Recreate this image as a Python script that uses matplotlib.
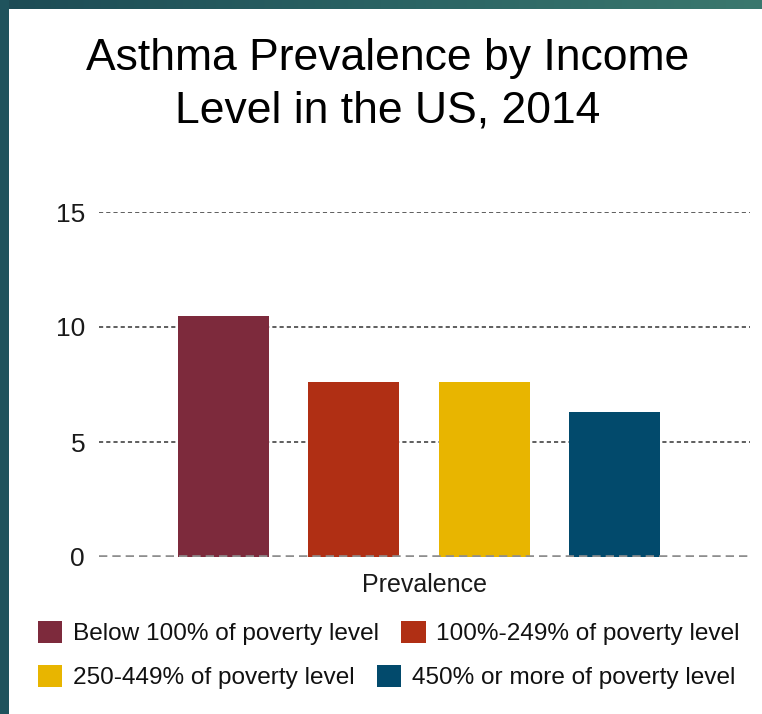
"""
Asthma prevalence by income level, bar chart in a framed panel.
"""

import numpy as np
import matplotlib
matplotlib.use('Agg')
import matplotlib.pyplot as plt
from matplotlib.patches import Rectangle, Patch

plt.rcParams['font.family'] = ['Liberation Sans', 'DejaVu Sans']
plt.rcParams['lines.scale_dashes'] = False

# Data
groups = ['Below 100% of poverty level', '100%-249% of poverty level',
          '250-449% of poverty level', '450% or more of poverty level']
prevalence = [10.5, 7.6, 7.6, 6.3]
y_ticks = [0, 5, 10, 15]
colors = ['#7d2a3c', '#b02f14', '#e8b500', '#024a6c']

W, H = 762, 714
fig = plt.figure(figsize=(W / 100, H / 100), dpi=100, facecolor='#1f525c')

# Teal frame with a gradient along the top edge
bg = fig.add_axes([0, 0, 1, 1], zorder=-10)
grad = np.linspace(0, 1, 256)[None, :]
bg.imshow(grad, aspect='auto', extent=[0, 1, 1 - 9 / H, 1],
          cmap=matplotlib.colors.LinearSegmentedColormap.from_list(
              'frame', ['#1d4b55', '#2a6263', '#3b786e']))
bg.add_patch(Rectangle((0, 0), 9 / W, 1, color='#1f535d', lw=0))
bg.add_patch(Rectangle((9 / W, 0), 1, 1 - 9 / H, color='white', lw=0))
bg.set_xlim(0, 1)
bg.set_ylim(0, 1)
bg.axis('off')

# Plot area
ax = fig.add_axes([99 / W, (H - 557) / H, 651 / W, 345 / H])
ax.set_facecolor('none')
x = np.arange(len(groups))
ax.bar(x, prevalence, width=0.7, color=colors, zorder=2)

for t in y_ticks[1:]:
    ax.axhline(t, color='#333333', lw=1.1, dashes=(3, 2.2), zorder=1)
ax.axhline(0, color='#8e8e8e', lw=2.6, dashes=(6, 3.6), zorder=3)

ax.set_xlim(-0.955, 4.04)
ax.set_ylim(0, 15)
ax.set_yticks(y_ticks)
ax.set_yticklabels([str(t) for t in y_ticks], fontsize=19, color='#1a1a1a')
ax.tick_params(axis='y', length=0, pad=10)
ax.set_xticks([])
for s in ax.spines.values():
    s.set_visible(False)

# Title and axis label
fig.text(388 / W, 1 - 70 / H, 'Asthma Prevalence by Income', ha='center',
         va='baseline', fontsize=32, color='black')
fig.text(388 / W, 1 - 122 / H, 'Level in the US, 2014', ha='center',
         va='baseline', fontsize=32, color='black')
fig.text(424.5 / W, 1 - 592 / H, 'Prevalence', ha='center', va='baseline',
         fontsize=18, color='#1a1a1a')

# Legend, two rows that flow left to right
handles = [Patch(facecolor=c, edgecolor='none') for c in colors]
for row, yc in enumerate([633, 677]):
    i = row * 2
    leg = fig.legend(handles[i:i + 2], groups[i:i + 2], ncol=2,
                     loc='center left', bbox_to_anchor=(38 / W, 1 - yc / H),
                     bbox_transform=fig.transFigure, frameon=False,
                     fontsize=17.6, handlelength=1.0, handleheight=1.0,
                     handletextpad=0.42, columnspacing=0.92,
                     borderpad=0, borderaxespad=0)
    for txt in leg.get_texts():
        txt.set_color('#111111')

plt.savefig('out.png', dpi=100, facecolor=fig.get_facecolor())
